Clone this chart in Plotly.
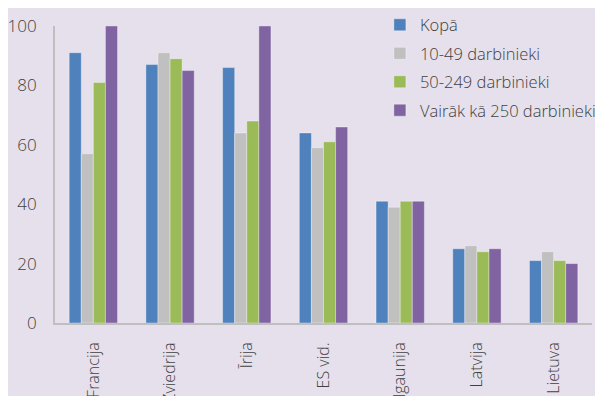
import plotly.graph_objects as go

valstis = ['Francija', 'Zviedrija', 'Īrija', 'ES vid.', 'Igaunija', 'Latvija', 'Lietuva']
kopa = [91, 87, 86, 64, 41, 25, 21]
d10_49 = [57, 91, 64, 59, 39, 26, 24]
d50_249 = [81, 89, 68, 61, 41, 24, 21]
virs250 = [100, 85, 100, 66, 41, 25, 20]

series = [
    ('Kopā', kopa, '#4F81BD'),
    ('10-49 darbinieki', d10_49, '#C0C0C0'),
    ('50-249 darbinieki', d50_249, '#9BBB59'),
    ('Vairāk kā 250 darbinieki', virs250, '#8064A2'),
]

fig = go.Figure()
for name, vals, col in series:
    fig.add_trace(go.Bar(x=valstis, y=vals, name=name, legendgroup=name,
                         marker=dict(color=col, line=dict(color='rgba(255,255,255,0.35)', width=1))))

# page body has an 8px margin, so the figure is a little smaller than the window
fig.update_layout(
    width=595, height=388,
    barmode='group', bargap=0.37, bargroupgap=0,
    paper_bgcolor='#E6E0EC', plot_bgcolor='#E6E0EC',
    margin=dict(l=47, r=11, t=18, b=73, autoexpand=False),
    font=dict(family='Open Sans', size=16, color='#404040', weight=300),
    legend=dict(x=0.605, y=1.062, xanchor='left', yanchor='top',
                bgcolor='rgba(0,0,0,0)', font=dict(size=16.5),
                tracegroupgap=4, itemwidth=30),
)
fig.update_xaxes(showline=True, linecolor='#BFBFBF', linewidth=2, tickangle=-90,
                 ticks='outside', ticklen=11, tickcolor='rgba(0,0,0,0)',
                 automargin=False, showgrid=False)
fig.update_yaxes(range=[0, 100], dtick=20, showline=True, linecolor='#BFBFBF', linewidth=2,
                 showgrid=False, zeroline=False, ticks='outside', ticklen=13,
                 tickcolor='rgba(0,0,0,0)', automargin=False, tickfont=dict(size=17))

fig.write_html("out.html")
